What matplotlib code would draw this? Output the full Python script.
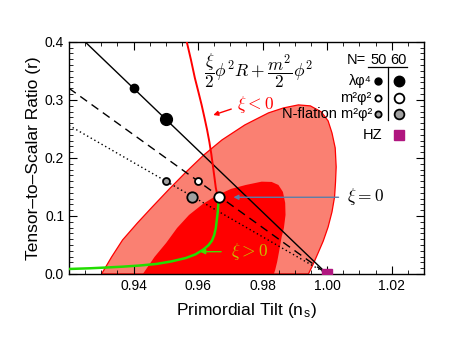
import numpy as np
import matplotlib
matplotlib.use('Agg')
import matplotlib.pyplot as plt
from matplotlib.ticker import MultipleLocator

plt.rcParams['font.family'] = ['Liberation Sans', 'DejaVu Sans']
plt.rcParams['mathtext.fontset'] = 'cm'

# 95% 与 68% 置信区域 (n_s, r)
outer_ns = [0.9301, 0.9332, 0.9366, 0.9412, 0.9458, 0.9511, 0.9563, 0.9618, 0.9674,
            0.9745, 0.9818, 0.9865, 0.9911, 0.9948, 0.9982, 1.0003, 1.0015, 1.0025,
            1.0028, 1.0026, 1.0023, 1.0015, 1.0003, 0.9988, 0.9972, 0.9957, 0.9942]
outer_r = [0.0, 0.0293, 0.0586, 0.0879, 0.1155, 0.1466, 0.1759, 0.2052, 0.2310,
           0.2569, 0.2776, 0.2862, 0.2914, 0.2897, 0.2793, 0.2638, 0.2431, 0.2172,
           0.1845, 0.1586, 0.1328, 0.1069, 0.0810, 0.0569, 0.0362, 0.0172, 0.0]
inner_ns = [0.9429, 0.9465, 0.9501, 0.9535, 0.9572, 0.9615, 0.9655, 0.9702, 0.9748,
            0.9797, 0.9828, 0.9849, 0.9863, 0.9870, 0.9871, 0.9866, 0.9859, 0.9852,
            0.9845, 0.9839, 0.9835]
inner_r = [0.0, 0.0293, 0.0534, 0.0793, 0.1017, 0.1207, 0.1345, 0.1466, 0.1534,
           0.1591, 0.1586, 0.1534, 0.1414, 0.1224, 0.1017, 0.0793, 0.0638, 0.0414,
           0.0207, 0.0069, 0.0]

# 模型直线 (端点)
lam_line_ns, lam_line_r = [0.925, 1.0], [0.4, 0.0]
m2_line_ns, m2_line_r = [0.92, 1.0], [0.32, 0.0]
nf_line_ns, nf_line_r = [0.92, 1.0], [0.256, 0.0]

# N=50, N=60 的点
lam_pts_ns, lam_pts_r = [0.94, 0.95], [0.32, 0.2667]
m2_pts_ns, m2_pts_r = [0.96, 0.9664], [0.16, 0.1333]
nf_pts_ns, nf_pts_r = [0.95, 0.958], [0.16, 0.133]
hz_ns, hz_r = 1.0, 0.0

# 非最小耦合曲线
xi_neg_ns = [0.9565, 0.9578, 0.9590, 0.9601, 0.9611, 0.9620, 0.9628, 0.9635, 0.9641,
             0.9646, 0.9651, 0.9655, 0.9659, 0.9664]
xi_neg_r = [0.4, 0.3690, 0.3379, 0.3138, 0.2914, 0.2690, 0.2483, 0.2276, 0.2069,
            0.1862, 0.1655, 0.1483, 0.1379, 0.1333]
xi_pos_ns = [0.9664, 0.9663, 0.9661, 0.9658, 0.9655, 0.9650, 0.9643, 0.9632, 0.9617,
             0.9592, 0.9562, 0.9517, 0.9470, 0.9418, 0.9367, 0.9311, 0.9265, 0.92]
xi_pos_r = [0.1333, 0.1224, 0.1069, 0.0931, 0.0793, 0.0672, 0.0574, 0.0494, 0.0424,
            0.0338, 0.0275, 0.0216, 0.0172, 0.0145, 0.0126, 0.0110, 0.0098, 0.0086]

fig = plt.figure(figsize=(4.51, 3.49), dpi=100)
ax = fig.add_axes([0.153, 0.215, 0.787, 0.665])

ax.fill(outer_ns, outer_r, facecolor='#fa8072', edgecolor='red', lw=0.9, zorder=1)
ax.fill(inner_ns, inner_r, facecolor='red', edgecolor='none', zorder=2)

ax.plot(lam_line_ns, lam_line_r, color='black', lw=1.0, zorder=3)
ax.plot(m2_line_ns, m2_line_r, color='black', lw=1.0, ls=(0, (6, 4)), zorder=3)
ax.plot(nf_line_ns, nf_line_r, color='black', lw=1.0, ls=(0, (1, 2)), zorder=3)

ax.plot(xi_neg_ns, xi_neg_r, color='red', lw=1.4, zorder=4)
ax.plot(xi_pos_ns, xi_pos_r, color='#22dd00', lw=1.8, zorder=4)

ms_small, ms_large = 6.0, 8.5
for ns, r, ms in zip(lam_pts_ns, lam_pts_r, [ms_small, ms_large]):
    ax.plot(ns, r, 'o', color='black', ms=ms, zorder=5)
for ns, r, ms in zip(m2_pts_ns, m2_pts_r, [ms_small - 1, ms_large - 1]):
    ax.plot(ns, r, 'o', mfc='white', mec='black', mew=1.3, ms=ms, zorder=5)
for ns, r, ms in zip(nf_pts_ns, nf_pts_r, [ms_small - 1, ms_large - 1]):
    ax.plot(ns, r, 'o', mfc='#a0a0a0', mec='black', mew=1.3, ms=ms, zorder=5)
ax.plot(hz_ns, hz_r, 's', color='#b0167f', ms=7.5, zorder=6)

# 标注
ax.annotate('', xy=(0.9639, 0.2724), xytext=(0.9711, 0.2857),
            arrowprops=dict(arrowstyle='-|>', color='red', lw=1.0, mutation_scale=7))
ax.text(0.9722, 0.292, r'$\xi < 0$', color='red', fontsize=12.5, va='center', ha='left')
ax.annotate('', xy=(0.9701, 0.1322), xytext=(1.0044, 0.1322),
            arrowprops=dict(arrowstyle='-|>', color='#5b7ea8', lw=1.0, mutation_scale=7), zorder=6)
ax.text(1.0062, 0.133, r'$\xi = 0$', color='black', fontsize=12.5, va='center', ha='left')
ax.annotate('', xy=(0.9598, 0.0384), xytext=(0.968, 0.0384),
            arrowprops=dict(arrowstyle='-|>', color='#44dd00', lw=1.0, mutation_scale=7), zorder=6)
ax.text(0.9702, 0.038, r'$\xi > 0$', color='#c8c000', fontsize=12.5, va='center', ha='left', zorder=6)

ax.text(0.380, 0.875, r'$\dfrac{\xi}{2}\phi^2 R + \dfrac{m^2}{2}\phi^2$', transform=ax.transAxes,
        fontsize=12.5, ha='left', va='center')

# 图例表
tr = ax.transAxes
fs_leg = 10.5
ax.text(0.838, 0.922, 'N=', transform=tr, fontsize=fs_leg, ha='right', va='center')
ax.text(0.872, 0.922, '50', transform=tr, fontsize=fs_leg, ha='center', va='center')
ax.text(0.929, 0.922, '60', transform=tr, fontsize=fs_leg, ha='center', va='center')
ax.plot([0.842, 0.951], [0.892, 0.892], color='black', lw=0.9, transform=tr, clip_on=False)
ax.plot([0.898, 0.898], [0.892, 0.664], color='black', lw=0.9, transform=tr, clip_on=False)
rows_y = [0.832, 0.757, 0.690]
row_labels = ['λφ⁴', 'm²φ²', 'N-flation m²φ²']
for y, lab in zip(rows_y, row_labels):
    ax.text(0.853, y, lab, transform=tr, fontsize=fs_leg, ha='right', va='center')
ax.plot([0.870], [rows_y[0]], 'o', color='black', ms=5, transform=tr, clip_on=False)
ax.plot([0.930], [rows_y[0]], 'o', color='black', ms=7.5, transform=tr, clip_on=False)
ax.plot([0.870], [rows_y[1]], 'o', mfc='white', mec='black', mew=1.3, ms=4.5, transform=tr, clip_on=False)
ax.plot([0.930], [rows_y[1]], 'o', mfc='white', mec='black', mew=1.3, ms=7, transform=tr, clip_on=False)
ax.plot([0.870], [rows_y[2]], 'o', mfc='#a0a0a0', mec='black', mew=1.3, ms=4.5, transform=tr, clip_on=False)
ax.plot([0.930], [rows_y[2]], 'o', mfc='#a0a0a0', mec='black', mew=1.3, ms=7, transform=tr, clip_on=False)
ax.text(0.884, 0.599, 'HZ', transform=tr, fontsize=fs_leg, ha='right', va='center')
ax.plot([0.930], [0.599], 's', color='#b0167f', ms=7.5, transform=tr, clip_on=False)

ax.set_xlim(0.92, 1.03)
ax.set_ylim(0.0, 0.4)
ax.set_xticks([0.94, 0.96, 0.98, 1.00, 1.02])
ax.set_xticklabels(['0.94', '0.96', '0.98', '1.00', '1.02'])
ax.set_yticks([0.0, 0.1, 0.2, 0.3, 0.4])
ax.set_yticklabels(['0.0', '0.1', '0.2', '0.3', '0.4'])
ax.xaxis.set_minor_locator(MultipleLocator(0.005))
ax.yaxis.set_minor_locator(MultipleLocator(0.01))
ax.tick_params(which='both', direction='in', top=True, right=True, labelsize=10)
ax.tick_params(which='major', length=6)
ax.tick_params(which='minor', length=3)
for s in ax.spines.values():
    s.set_linewidth(1.0)

ax.set_xlabel('Primordial Tilt (n$_\\mathregular{s}$)', fontsize=12.5, labelpad=6)
ax.set_ylabel('Tensor\u2013to\u2013Scalar Ratio (r)', fontsize=12.5, labelpad=3)

fig.savefig('out.png', dpi=100)
